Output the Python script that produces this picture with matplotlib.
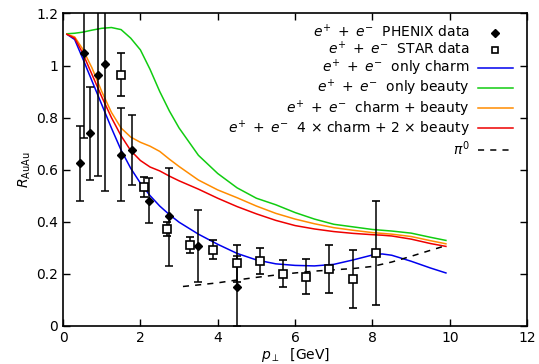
import matplotlib
matplotlib.use("Agg")
import matplotlib.pyplot as plt
from matplotlib.lines import Line2D
import numpy as np

# PHENIX e+ + e- data (diamonds)
phenix_pt = [0.44, 0.55, 0.70, 0.90, 1.09, 1.50, 1.79, 2.23, 2.75, 3.50, 4.49]
phenix_r = [0.624, 1.05, 0.739, 0.964, 1.005, 0.658, 0.674, 0.479, 0.421, 0.305, 0.148]
phenix_lo = [0.48, 0.72, 0.562, 0.575, 0.517, 0.479, 0.54, 0.396, 0.228, 0.168, 0.0]
phenix_hi = [0.768, 1.40, 0.917, 1.40, 1.40, 0.835, 0.811, 0.566, 0.608, 0.444, 0.27]

# STAR e+ + e- data (open squares)
star_pt = [1.50, 2.08, 2.68, 3.28, 3.88, 4.49, 5.09, 5.68, 6.28, 6.88, 7.49, 8.08]
star_r = [0.964, 0.533, 0.372, 0.311, 0.29, 0.241, 0.25, 0.20, 0.189, 0.22, 0.18, 0.281]
star_lo = [0.882, 0.493, 0.344, 0.28, 0.255, 0.17, 0.20, 0.148, 0.122, 0.127, 0.068, 0.081]
star_hi = [1.048, 0.573, 0.40, 0.34, 0.33, 0.31, 0.30, 0.251, 0.256, 0.312, 0.29, 0.478]

# model curves
pt_model = [0.1, 0.3, 0.5, 0.75, 1.0, 1.25, 1.5, 1.75, 2.0, 2.25, 2.5, 2.75, 3.0, 3.5,
            4.0, 4.5, 5.0, 5.5, 6.0, 6.5, 7.0, 7.5, 8.0, 8.25, 8.5, 9.0, 9.5, 9.9]
r_charm = [1.12, 1.10, 1.03, 0.94, 0.85, 0.76, 0.675, 0.605, 0.548, 0.50, 0.46, 0.427, 0.398, 0.352,
           0.313, 0.278, 0.253, 0.238, 0.232, 0.23, 0.236, 0.253, 0.272, 0.276, 0.271, 0.248, 0.222, 0.203]
r_beauty = [1.122, 1.124, 1.128, 1.136, 1.143, 1.146, 1.138, 1.105, 1.06, 0.985, 0.90, 0.825, 0.76, 0.655,
            0.585, 0.53, 0.49, 0.465, 0.435, 0.41, 0.39, 0.38, 0.37, 0.367, 0.364, 0.356, 0.34, 0.328]
r_cb = [1.12, 1.11, 1.065, 0.99, 0.90, 0.82, 0.76, 0.725, 0.705, 0.69, 0.67, 0.64, 0.612, 0.56,
        0.522, 0.492, 0.46, 0.432, 0.41, 0.392, 0.377, 0.367, 0.358, 0.355, 0.352, 0.343, 0.327, 0.315]
r_4c2b = [1.12, 1.105, 1.05, 0.965, 0.88, 0.80, 0.73, 0.673, 0.635, 0.61, 0.595, 0.575, 0.557, 0.525,
          0.49, 0.458, 0.43, 0.405, 0.385, 0.372, 0.362, 0.355, 0.35, 0.348, 0.345, 0.333, 0.316, 0.305]

# pi0
pt_pi0 = [3.1, 3.5, 4.0, 4.5, 5.0, 5.5, 6.0, 6.5, 7.0, 7.5, 8.0, 8.5, 9.0, 9.5, 9.9]
r_pi0 = [0.151, 0.157, 0.165, 0.176, 0.186, 0.195, 0.203, 0.21, 0.215, 0.22, 0.228, 0.245, 0.267, 0.29, 0.308]

xticks = [0, 2, 4, 6, 8, 10, 12]
yticks = [0, 0.2, 0.4, 0.6, 0.8, 1.0, 1.2]
ytick_labels = ["0", "0.2", "0.4", "0.6", "0.8", "1", "1.2"]

plt.rcParams['font.size'] = 10
plt.rcParams['mathtext.fontset'] = 'dejavusans'

fig = plt.figure(figsize=(5.39, 3.64), dpi=100)
ax = fig.add_axes([0.117, 0.105, 0.861, 0.858])

ep = r"$e^{+}\;+\;e^{-}$"

ph = np.array(phenix_r)
ax.errorbar(phenix_pt, phenix_r,
            yerr=[ph - np.array(phenix_lo), np.array(phenix_hi) - ph],
            fmt='D', color='black', ms=4.5, capsize=3, elinewidth=1.1, capthick=1.1, zorder=4)
st = np.array(star_r)
ax.errorbar(star_pt, star_r,
            yerr=[st - np.array(star_lo), np.array(star_hi) - st],
            fmt='s', color='black', mfc='white', mec='black', mew=1.2, ms=6, capsize=3,
            elinewidth=1.1, capthick=1.1, zorder=5)

l1, = ax.plot(pt_model, r_charm, color='#0000ee', lw=1.1)
l2, = ax.plot(pt_model, r_beauty, color='#11cc11', lw=1.1)
l3, = ax.plot(pt_model, r_cb, color='#ff8c00', lw=1.1)
l4, = ax.plot(pt_model, r_4c2b, color='#ee0000', lw=1.1)
l5, = ax.plot(pt_pi0, r_pi0, color='black', lw=1.1, ls=(0, (4, 4)))

ax.set_xlim(0, 12)
ax.set_ylim(0, 1.2)
ax.set_xticks(xticks)
ax.set_yticks(yticks)
ax.set_yticklabels(ytick_labels)
ax.tick_params(direction='in', top=True, right=True, length=5, width=1.0, labelsize=10)
for s in ax.spines.values():
    s.set_linewidth(1.2)

ax.set_xlabel(r"$p_\perp$  [GeV]", labelpad=1)
ax.set_ylabel(r"$R_{\mathrm{AuAu}}$", labelpad=2)

h_ph = Line2D([], [], marker='D', ms=4, color='black', ls='none')
h_st = Line2D([], [], marker='s', ms=5, mfc='white', mec='black', mew=1.2, ls='none')
handles = [h_ph, h_st, l1, l2, l3, l4, l5]
labels = [ep + "  PHENIX data", ep + "  STAR data", ep + "  only charm", ep + "  only beauty",
          ep + "  charm + beauty", ep + r"  4 $\times$ charm + 2 $\times$ beauty", r"$\pi^{0}$"]
ax.legend(handles, labels, loc='upper right', frameon=False, markerfirst=False, fontsize=10,
          handlelength=2.5, handletextpad=0.6, labelspacing=0.0,
          borderaxespad=0.3, bbox_to_anchor=(0.99, 1.0))

fig.savefig("out.png", dpi=100)
